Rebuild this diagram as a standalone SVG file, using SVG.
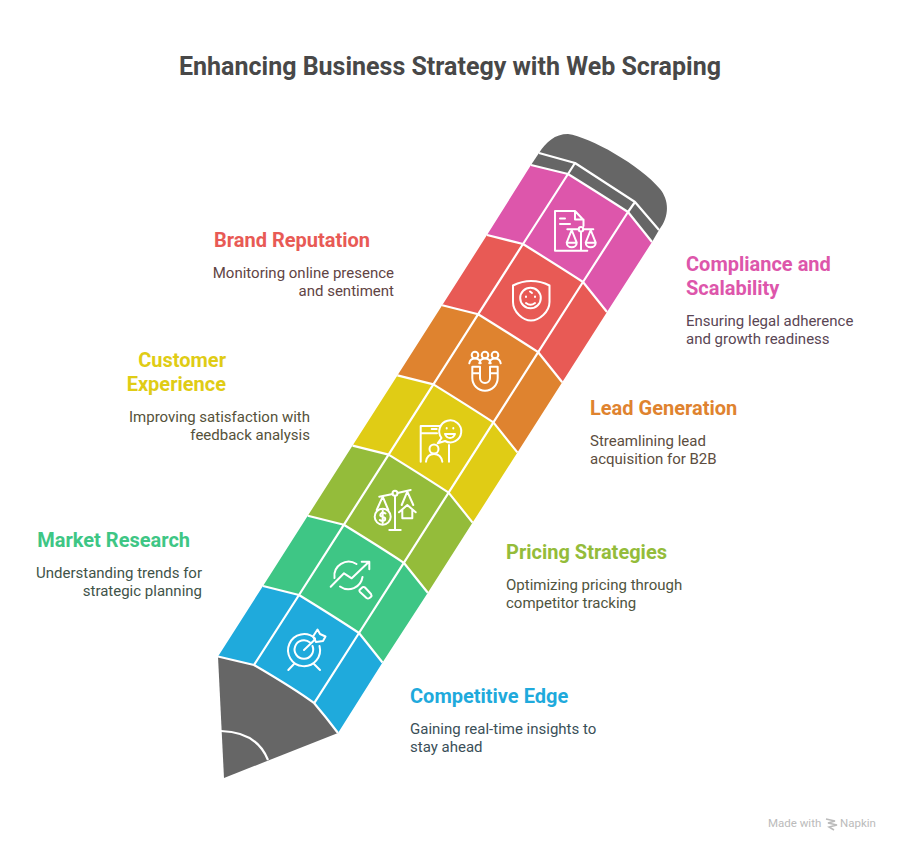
<svg xmlns="http://www.w3.org/2000/svg" width="900" height="851" viewBox="0 0 900 851">
<style>
text{font-family:Roboto,"Liberation Sans",sans-serif}
.t{font-size:25px;font-weight:700;fill:#484848}
.h{font-size:20px;font-weight:700}
.b{font-size:15px}
.e{text-anchor:end}
.cap{fill:#666}
.l{fill:none;stroke:#fff;stroke-width:2.2;stroke-linejoin:round}
.ic{fill:none;stroke:#fff;stroke-width:2;stroke-linecap:round;stroke-linejoin:round}
</style>
<rect width="900" height="851" fill="#fff"/>
<text class="t" x="450" y="75" text-anchor="middle">Enhancing Business Strategy with Web Scraping</text>
<g id="cap">
<path class="cap" d="M539 153C546 142 555 134 568 134C590 137 640 165 660 189C669 200 670 216 659 230L635 202L575 163Z"/>
<path class="cap" d="M531 165L539 153L575 163L568 174Z"/>
<path class="cap" d="M568 174L575 163L635 202L628 212Z"/>
<path class="cap" d="M628 212L635 202L659 230L652 242Z"/>
</g>
<g id="tip">
<path class="cap" d="M218 656.500L254 665Q295 689 314.200 703.200Q326 717 338 733L224 778Z"/>
</g>
<g id="compliance">
<path fill="#DD56AB" d="M531 165L568 174Q608 199 628 212L652 242L607 312L583 282Q543 257 523 244L487 235Z"/>
<path class="ic" d="M583.500 226V220L575 211H555V250.700H575M575 211V219.500H583.500M560 218.500H565M560 224H570M581 232V250.700M575 250.700H587.300M567.300 229.300H578.700M583.300 229.300H593.300"/>
<circle class="ic" cx="581" cy="229.300" r="2.300"/>
<path class="ic" d="M571.700 230L566.700 242.700H576.700ZM566.700 242.700A5 4.500 0 0 0 576.700 242.700M590.700 230L585.700 242.700H595.700ZM585.700 242.700A5 4.500 0 0 0 595.700 242.700"/>
</g>
<g id="brand">
<path fill="#E85A55" d="M487 235L523 244Q563 269 583 282L607 312L562.200 382.200L538.200 352.200Q498 327 478.200 314.200L442.200 305.200Z"/>
<path class="ic" d="M531 281Q541 281 549.500 285.500V302C549.500 312 539 320.500 531 320.500C523 320.500 513 312 513 302V285.500Q522 281 531 281Z"/>
<circle class="ic" cx="530.500" cy="298" r="10.300"/>
<path class="ic" d="M526 303Q530.500 306.500 535 303M526 296.500V297M535 296.500V297M530 291.500L532 293"/>
</g>
<g id="lead">
<path fill="#DF832F" d="M442.200 305.200L478.200 314.200Q518 339 538.200 352.200L562.200 382.200L517.400 452.400L493.400 422.400Q453 397 433.400 384.400L397.400 375.400Z"/>
<circle class="ic" cx="475" cy="355" r="3.300"/><circle class="ic" cx="485" cy="355" r="3.300"/><circle class="ic" cx="495" cy="355" r="3.300"/>
<path class="ic" d="M469.300 363.300Q470 358.500 475 358.500Q480 358.500 480.700 363.300M479.300 363.300Q480 358.500 485 358.500Q490 358.500 490.700 363.300M489.300 363.300Q490 358.500 495 358.500Q500 358.500 500.700 363.300"/>
<path class="ic" d="M472.300 366.700V378A12.700 12.700 0 0 0 497.700 378V366.700H490V378A5 5 0 0 1 480 378V366.700ZM472.300 373.300H480M490 373.300H497.700"/>
</g>
<g id="experience">
<path fill="#E0CC15" d="M397.400 375.400L433.400 384.400Q473 409 493.400 422.400L517.400 452.400L472.600 522.600L448.600 492.600Q408 467 388.600 454.600L352.600 445.600Z"/>
<path class="ic" d="M420.700 461.700V426H440M420.700 433.300H437M431.700 429H436.700M449 445V461.700"/>
<path class="ic" d="M437.700 443.300L441.500 438A11 11 0 1 1 445 441Z"/>
<path class="ic" d="M446.700 428V428.600M453.300 428V428.600M445 434H455Q453.500 438 450 438Q446.500 438 445 434Z"/>
<circle class="ic" cx="434" cy="449" r="4.500"/>
<path class="ic" d="M426 461.700Q427 454 434 454Q441 454 442.300 461.700"/>
</g>
<g id="pricing">
<path fill="#94BC3A" d="M352.600 445.600L388.600 454.600Q428 479 448.600 492.600L472.600 522.600L427.800 592.800L403.800 562.800Q363 537 343.800 524.800L307.800 515.800Z"/>
<path class="ic" d="M379.300 496.700L392.700 494M397.500 493L410.700 490M395 495.700V530M389.300 530H400.700"/>
<circle class="ic" cx="395" cy="493.300" r="2.500"/>
<path class="ic" d="M382.700 496.700L376.700 510M382.700 496.700L388.300 510M407.300 491.700L401.700 505M407.300 491.700L413.300 505"/>
<circle class="ic" cx="382.700" cy="516.700" r="8"/>
<path class="ic" d="M385.500 513.500Q382.500 511.500 380.500 514Q379.500 516.500 382.700 516.700Q386 517.500 385 520Q382.500 522 379.800 520M382.700 510.500V523"/>
<path class="ic" d="M399 512.300L407.300 505L415.700 512.300M402.300 510V518.300H412.300V510"/>
</g>
<g id="market">
<path fill="#3EC685" d="M307.800 515.800L343.800 524.800Q383 549 403.800 562.800L427.800 592.800L382.500 662.500L359 633Q318 607 299 595L263 586Z"/>
<path class="ic" d="M334.500 578A14.300 14.300 0 0 1 356.500 564M362.500 577A14.300 14.300 0 0 1 340 586.500"/>
<path class="ic" d="M330.700 586.700L344 573.300L351.700 578.300L369 561.700M361.700 561.700H369.300V569.300"/>
<path class="ic" d="M359.500 590L362.500 587.200Q364 586.500 365 587.500L371 594Q372 595.500 371 596.800L369.500 598Q368 599 366.500 598L360 592Q359 591 359.500 590Z"/>
</g>
<g id="competitive">
<path fill="#1FAADC" d="M263 586L299 595Q338 619 359 633L382.500 662.500L338 733L314.200 703.200Q275 678 254 665L218 656.500Z"/>
<path class="ic" d="M315 638.500A16 16 0 1 0 319.500 646"/>
<path class="ic" d="M310 642.500A9.300 9.300 0 1 0 312.500 646"/>
<path class="ic" d="M304 650L315 639.500M294 664L288.300 670M314 664L320 670"/>
<path class="ic" d="M313 636.500L317.500 629.500L320 634L325.500 636.500L323 641L316 642Z"/>
</g>
<g id="connectors">
<path class="l" d="M539 153L575 163L635 202L659 230M575 163L568 174M635 202L628 212"/>
<path class="l" d="M531 165L568 174Q608 199 628 212L652 242M568 174L523 244M628 212L583 282"/>
<path class="l" d="M487 235L523 244Q563 269 583 282L607 312M523 244L478.200 314.200M583 282L538.200 352.200"/>
<path class="l" d="M442.200 305.200L478.200 314.200Q518 339 538.200 352.200L562.200 382.200M478.200 314.200L433.400 384.400M538.200 352.200L493.400 422.400"/>
<path class="l" d="M397.400 375.400L433.400 384.400Q473 409 493.400 422.400L517.400 452.400M433.400 384.400L388.600 454.600M493.400 422.400L448.600 492.600"/>
<path class="l" d="M352.600 445.600L388.600 454.600Q428 479 448.600 492.600L472.600 522.600M388.600 454.600L343.800 524.800M448.600 492.600L403.800 562.800"/>
<path class="l" d="M307.800 515.800L343.800 524.800Q383 549 403.800 562.800L427.800 592.800M343.800 524.800L299 595M403.800 562.800L359 633"/>
<path class="l" d="M263 586L299 595Q338 619 359 633L382.500 662.500M299 595L254 665M359 633L314.200 703.200"/>
<path class="l" d="M218 656.500L254 665Q295 689 314.200 703.200Q326 717 338 733"/>
<path class="l" d="M221 731Q257 732 268 760"/>
</g>
<g id="labels">
<text class="h" x="214" y="247" fill="#E85A55">Brand Reputation</text>
<text class="b e" x="394" y="278" fill="#5f4444">Monitoring online presence</text>
<text class="b e" x="394" y="296" fill="#5f4444">and sentiment</text>
<text class="h" x="686" y="271" fill="#DD56AB">Compliance and</text>
<text class="h" x="686" y="295" fill="#DD56AB">Scalability</text>
<text class="b" x="686" y="326" fill="#5a4654">Ensuring legal adherence</text>
<text class="b" x="686" y="344" fill="#5a4654">and growth readiness</text>
<text class="h e" x="226" y="367" fill="#E0CC15">Customer</text>
<text class="h e" x="226" y="391" fill="#E0CC15">Experience</text>
<text class="b e" x="310" y="422" fill="#55523a">Improving satisfaction with</text>
<text class="b e" x="310" y="440" fill="#55523a">feedback analysis</text>
<text class="h" x="590" y="415" fill="#DF832F">Lead Generation</text>
<text class="b" x="590" y="446" fill="#5c4d3e">Streamlining lead</text>
<text class="b" x="590" y="464" fill="#5c4d3e">acquisition for B2B</text>
<text class="h e" x="190" y="547" fill="#3EC685">Market Research</text>
<text class="b e" x="202" y="578" fill="#3f5349">Understanding trends for</text>
<text class="b e" x="202" y="596" fill="#3f5349">strategic planning</text>
<text class="h" x="506" y="559" fill="#94BC3A">Pricing Strategies</text>
<text class="b" x="506" y="590" fill="#4f5440">Optimizing pricing through</text>
<text class="b" x="506" y="608" fill="#4f5440">competitor tracking</text>
<text class="h" x="410" y="703" fill="#1FAADC">Competitive Edge</text>
<text class="b" x="410" y="734" fill="#3a4f58">Gaining real-time insights to</text>
<text class="b" x="410" y="752" fill="#3a4f58">stay ahead</text>
<text x="768" y="827" font-size="11.500" fill="#bbb">Made with</text>
<path d="M826 819L835 821L828 823L837 825L829 827L834 830" fill="none" stroke="#bbb" stroke-width="1.500"/>
<text x="840" y="827" font-size="11.500" fill="#bbb">Napkin</text>
</g>
</svg>
